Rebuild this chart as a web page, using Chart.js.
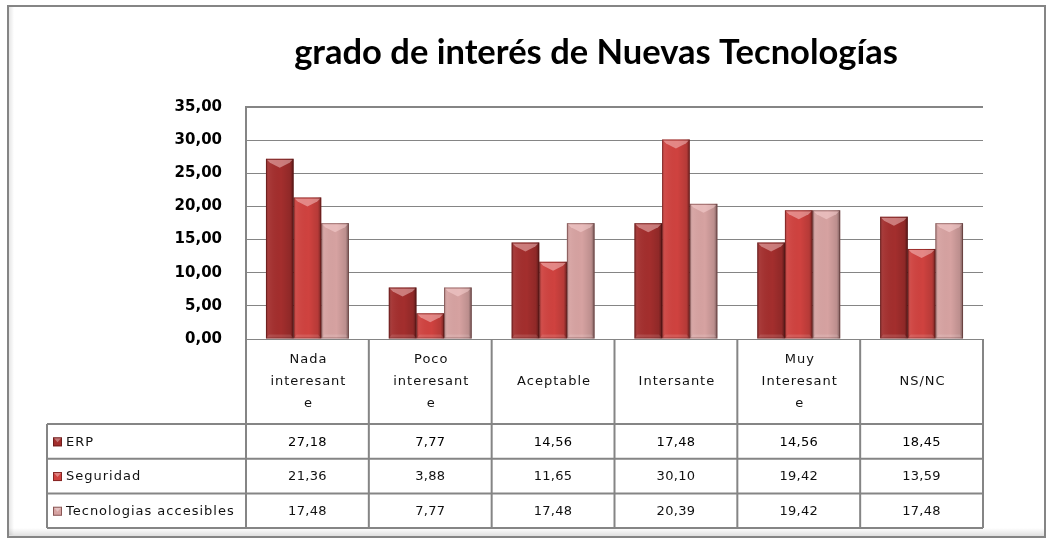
<!DOCTYPE html>
<html>
<head>
<meta charset="utf-8">
<script src="https://cdn.jsdelivr.net/npm/chart.js@4"></script>
<style>
  body { margin: 0; background: #ffffff; }
  canvas { display: block; }
</style>
</head>
<body>
<canvas id="chart" width="1047" height="540"></canvas>
<script>
// Chart data
const chartTitle = 'grado de interés de Nuevas Tecnologías';
const categories = [
    ['Nada', 'interesant', 'e'],
    ['Poco', 'interesant', 'e'],
    ['Aceptable'],
    ['Intersante'],
    ['Muy', 'Interesant', 'e'],
    ['NS/NC']
];
const seriesNames = ['ERP', 'Seguridad', 'Tecnologias accesibles'];
const erpValues = [27.18, 7.77, 14.56, 17.48, 14.56, 18.45];
const seguridadValues = [21.36, 3.88, 11.65, 30.10, 19.42, 13.59];
const tecnologiasValues = [17.48, 7.77, 17.48, 20.39, 19.42, 17.48];
const yMin = 0;
const yMax = 35;
const yStep = 5;

const seriesColors = ['#a32e2d', '#cf423f', '#d6a2a1'];
const lineColor = '#858585';

const fmt = v => v.toFixed(2).replace('.', ',');

/**
 * Outer frame of the chart
 */
const framePlugin = {
    id: 'frame',
    beforeDraw(chart) {
        const ctx = chart.ctx;
        ctx.save();
        ctx.fillStyle = '#ffffff';
        ctx.fillRect(0, 0, chart.width, chart.height);
        // soft shadow near bottom edge
        const g = ctx.createLinearGradient(0, 528, 0, 536);
        g.addColorStop(0, 'rgba(0,0,0,0)');
        g.addColorStop(1, 'rgba(0,0,0,0.12)');
        ctx.fillStyle = g;
        ctx.fillRect(9, 528, chart.width - 12, 8);
        const gl = ctx.createLinearGradient(9, 0, 14, 0);
        gl.addColorStop(0, 'rgba(0,0,0,0.10)');
        gl.addColorStop(1, 'rgba(0,0,0,0)');
        ctx.fillStyle = gl;
        ctx.fillRect(9, 7, 5, 528);
        ctx.strokeStyle = lineColor;
        ctx.lineWidth = 2;
        ctx.strokeRect(8, 6, chart.width - 10, 531);
        ctx.restore();
    }
};

/**
 * Title drawn at the position Excel placed it
 */
const titlePlugin = {
    id: 'xlTitle',
    afterDraw(chart) {
        const ctx = chart.ctx;
        ctx.save();
        ctx.font = 'bold 34.5px Lato, "Open Sans", sans-serif';
        ctx.fillStyle = '#000000';
        ctx.textAlign = 'center';
        ctx.textBaseline = 'alphabetic';
        ctx.fillText(chartTitle, 596, 64);
        ctx.restore();
    }
};

/**
 * Bevel shading on top of each bar
 */
const bevelPlugin = {
    id: 'bevel',
    afterDatasetsDraw(chart) {
        const ctx = chart.ctx;
        ctx.save();
        chart.data.datasets.forEach((ds, di) => {
            const meta = chart.getDatasetMeta(di);
            meta.data.forEach(el => {
                const { x, y, base, width } = el.getProps(['x', 'y', 'base', 'width'], true);
                const l = x - width / 2;
                const r = x + width / 2;
                const h = base - y;

                // side shading
                const g = ctx.createLinearGradient(l, 0, r, 0);
                g.addColorStop(0, 'rgba(0,0,0,0.22)');
                g.addColorStop(0.12, 'rgba(255,255,255,0.05)');
                g.addColorStop(0.55, 'rgba(0,0,0,0)');
                g.addColorStop(0.88, 'rgba(0,0,0,0.12)');
                g.addColorStop(1, 'rgba(0,0,0,0.45)');
                ctx.fillStyle = g;
                ctx.fillRect(l, y, width, h);

                // top bevel
                ctx.fillStyle = 'rgba(255,220,220,0.45)';
                ctx.beginPath();
                ctx.moveTo(l + 1, y + 1);
                ctx.lineTo(r - 1, y + 1);
                ctx.lineTo(r - 4, y + 4);
                ctx.lineTo(x, y + Math.min(9, h));
                ctx.lineTo(l + 4, y + 4);
                ctx.closePath();
                ctx.fill();

                // bottom bevel
                ctx.fillStyle = 'rgba(255,255,255,0.12)';
                ctx.beginPath();
                ctx.moveTo(l + 3, base - 4);
                ctx.lineTo(r - 3, base - 4);
                ctx.lineTo(r, base);
                ctx.lineTo(l, base);
                ctx.closePath();
                ctx.fill();

                // outline
                ctx.strokeStyle = 'rgba(60,10,10,0.35)';
                ctx.lineWidth = 1;
                ctx.strokeRect(l + 0.5, y + 0.5, width - 1, h - 1);
            });
        });
        ctx.restore();
    }
};

/**
 * Data table under the plot area
 */
const tablePlugin = {
    id: 'dataTable',
    afterDraw(chart) {
        const ctx = chart.ctx;
        const area = chart.chartArea;
        const xs = chart.scales.x;
        const half = (xs.getPixelForValue(1) - xs.getPixelForValue(0)) / 2;
        const headerH = 85;
        const rowH = 34.7;
        const legendLeft = 47;
        const top = area.bottom;
        const bottom = top + headerH + rowH * seriesNames.length;

        ctx.save();
        ctx.strokeStyle = lineColor;
        ctx.lineWidth = 2;

        // vertical lines
        ctx.beginPath();
        ctx.moveTo(area.left, top);
        ctx.lineTo(area.left, bottom);
        categories.forEach((c, i) => {
            const xr = xs.getPixelForValue(i) + half;
            ctx.moveTo(xr, top);
            ctx.lineTo(xr, bottom);
        });
        ctx.moveTo(legendLeft, top + headerH);
        ctx.lineTo(legendLeft, bottom);
        // horizontal lines
        for (let r = 0; r <= seriesNames.length; r++) {
            const yy = top + headerH + rowH * r;
            ctx.moveTo(legendLeft, yy);
            ctx.lineTo(area.right, yy);
        }
        ctx.stroke();

        ctx.fillStyle = '#111111';
        ctx.textAlign = 'center';
        ctx.textBaseline = 'middle';
        ctx.font = '13px "DejaVu Sans", sans-serif';
        ctx.letterSpacing = '1px';

        // header labels
        categories.forEach((lines, i) => {
            const cx = xs.getPixelForValue(i) + 1;
            const cy = top + headerH / 2;
            lines.forEach((t, k) => {
                ctx.fillText(t, cx, cy + (k - (lines.length - 1) / 2) * 22);
            });
        });

        // rows
        const rows = [erpValues, seguridadValues, tecnologiasValues];
        rows.forEach((vals, r) => {
            const cy = top + headerH + rowH * r + rowH / 2 + 1;
            ctx.font = '13px "DejaVu Sans", sans-serif';
            ctx.letterSpacing = '0.3px';
            ctx.fillStyle = r === 0 ? '#000000' : '#111111';
            ctx.textAlign = 'center';
            vals.forEach((v, i) => {
                ctx.fillText(fmt(v), xs.getPixelForValue(i), cy);
            });

            // legend key
            const mx = 53, my = cy - 5;
            ctx.fillStyle = seriesColors[r];
            ctx.fillRect(mx, my, 9, 9);
            ctx.strokeStyle = 'rgba(60,10,10,0.5)';
            ctx.lineWidth = 1;
            ctx.strokeRect(mx + 0.5, my + 0.5, 8, 8);
            ctx.fillStyle = 'rgba(255,255,255,0.35)';
            ctx.beginPath();
            ctx.moveTo(mx + 1, my + 1);
            ctx.lineTo(mx + 8, my + 1);
            ctx.lineTo(mx + 4.5, my + 5);
            ctx.closePath();
            ctx.fill();

            ctx.fillStyle = '#111111';
            ctx.textAlign = 'left';
            ctx.letterSpacing = '1px';
            ctx.fillText(seriesNames[r], 66, cy);
        });
        ctx.restore();
    }
};

new Chart(document.getElementById('chart'), {
    type: 'bar',
    data: {
        labels: categories,
        datasets: [
            { label: seriesNames[0], data: erpValues, backgroundColor: seriesColors[0] },
            { label: seriesNames[1], data: seguridadValues, backgroundColor: seriesColors[1] },
            { label: seriesNames[2], data: tecnologiasValues, backgroundColor: seriesColors[2] }
        ]
    },
    options: {
        responsive: false,
        animation: false,
        categoryPercentage: 0.675,
        barPercentage: 1,
        layout: {
            padding: { top: 107, bottom: 201, left: 0, right: 64 }
        },
        plugins: {
            legend: { display: false },
            title: { display: false },
            tooltip: { enabled: false }
        },
        scales: {
            x: {
                display: false
            },
            y: {
                min: yMin,
                max: yMax,
                afterFit(scale) {
                    scale.width = 246;
                },
                border: {
                    display: true,
                    color: lineColor,
                    width: 2
                },
                grid: {
                    color: lineColor,
                    lineWidth: ctx => (ctx.tick && ctx.tick.value === yMax ? 2 : 1),
                    drawTicks: false
                },
                ticks: {
                    stepSize: yStep,
                    padding: 24,
                    color: '#000000',
                    font: { family: '"DejaVu Sans", sans-serif', size: 15, weight: 'bold' },
                    callback: v => fmt(v)
                }
            }
        }
    },
    plugins: [framePlugin, bevelPlugin, tablePlugin, titlePlugin]
});
</script>
</body>
</html>
